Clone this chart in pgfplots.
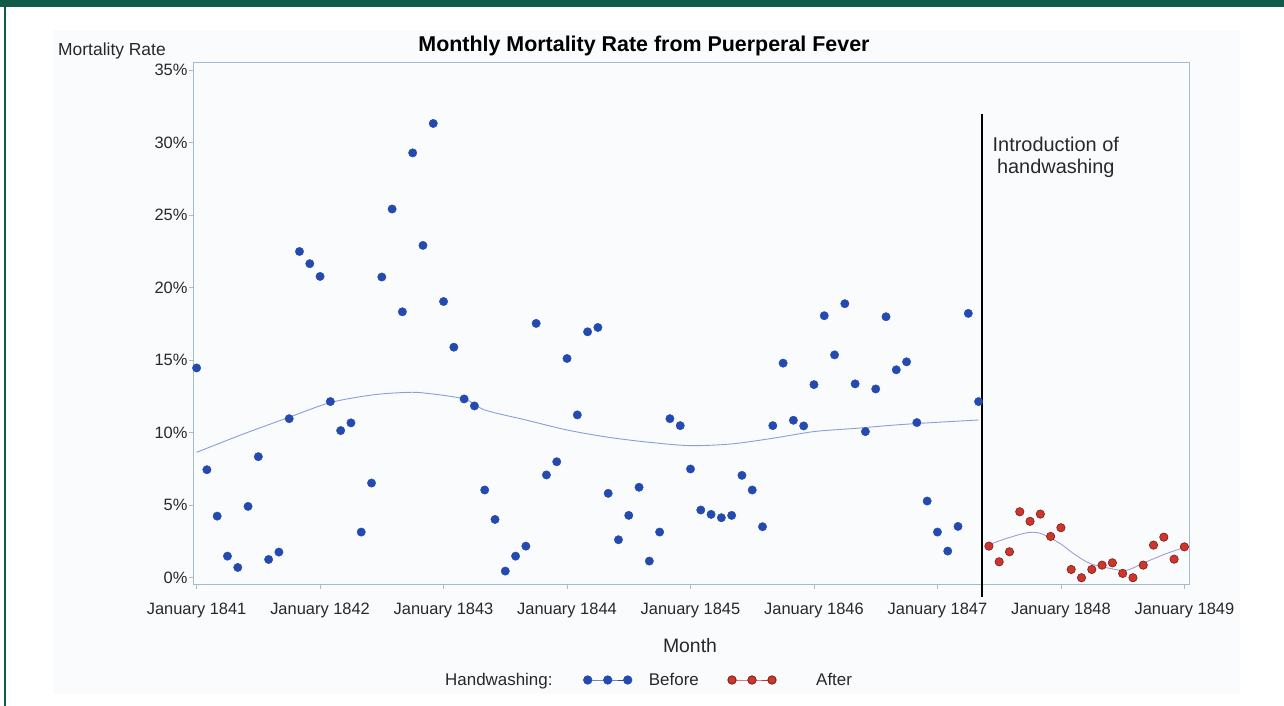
\documentclass[border=0pt]{standalone}
\usepackage{fontspec}
\setmainfont{Liberation Sans}
\usepackage{pgfplots}
\usepackage{pgfplotstable}
\pgfplotsset{compat=1.18}
\definecolor{dkgreen}{RGB}{15,90,72}
\definecolor{panel}{RGB}{250,251,253}
\definecolor{axc}{RGB}{165,188,202}
\definecolor{ptblue}{RGB}{36,74,176}
\definecolor{ptred}{RGB}{206,54,44}
\definecolor{ptredo}{RGB}{120,30,25}
\definecolor{fitblue}{RGB}{135,160,215}
\definecolor{fitred}{RGB}{165,155,210}
\definecolor{txt}{RGB}{40,40,40}

\pgfplotsset{
  blueleg/.style={legend image code/.code={\draw[ptblue, line width=0.8bp, mark=*, mark size=4.2bp, mark options={fill=ptblue}] plot coordinates {(0bp,0bp) (20bp,0bp) (40bp,0bp)};}},
  redleg/.style={legend image code/.code={\draw[ptred, line width=0.8bp, mark=*, mark size=4.2bp, mark options={fill=ptred, draw=ptredo}] plot coordinates {(0bp,0bp) (20bp,0bp) (40bp,0bp)};}},
}

\pgfplotstableread{
m v
0 14.47
1 7.45
2 4.25
3 1.49
4 0.71
5 4.92
6 8.35
7 1.26
8 1.77
9 10.97
10 22.50
11 21.66
12 20.78
13 12.15
14 10.15
15 10.68
16 3.15
17 6.53
18 20.74
19 25.43
20 18.34
21 29.30
22 22.92
23 31.33
24 19.05
25 15.90
26 12.33
27 11.85
28 6.05
29 4.02
30 0.46
31 1.49
32 2.18
33 17.54
34 7.09
35 8.00
36 15.12
37 11.23
38 16.96
39 17.26
40 5.82
41 2.62
42 4.30
43 6.24
44 1.15
45 3.15
46 10.97
47 10.49
48 7.50
49 4.67
50 4.37
51 4.14
52 4.30
53 7.06
54 6.05
55 3.52
56 10.49
57 14.80
58 10.86
59 10.47
60 13.32
61 18.07
62 15.37
63 18.90
64 13.37
65 10.08
66 13.02
67 18.00
68 14.34
69 14.89
70 10.70
71 5.29
72 3.15
73 1.84
74 3.54
75 18.23
76 12.15
}\before

\pgfplotstableread{
m v
77 2.18
78 1.10
79 1.79
80 4.55
81 3.89
82 4.39
83 2.85
84 3.45
85 0.57
86 0.00
87 0.57
88 0.87
89 1.03
90 0.30
91 0.00
92 0.87
93 2.25
94 2.80
95 1.28
96 2.13
}\after

\pgfplotstableread{
m v
0 8.65
4.5 9.90
9 11.07
13 12.08
17 12.60
20 12.77
22 12.75
26 12.33
28 11.57
32 10.88
36 10.19
40 9.69
44 9.34
48 9.11
52 9.23
56 9.62
60 10.08
64 10.30
68 10.54
72 10.72
76 10.88
}\fitbefore

\pgfplotstableread{
m v
76.9 2.25
78.7 2.71
80.7 3.10
82.0 3.06
83.9 2.37
85.2 1.68
86.8 0.99
88.8 0.64
90.4 0.52
92.3 1.10
94.3 1.68
96.2 2.13
}\fitafter

\begin{document}
\begin{tikzpicture}[x=1bp,y=1bp]
\useasboundingbox (0,0) rectangle (1284,706);
\fill[white] (0,0) rectangle (1284,706);
\fill[dkgreen] (0,699) rectangle (1284,706);
\fill[dkgreen] (4,0) rectangle (6,706);
\fill[panel] (53,12) rectangle (1240,676);
\begin{axis}[
  at={(193bp,121bp)}, anchor=south west,
  scale only axis, width=996bp, height=522bp,
  xmin=-0.35, xmax=96.45, ymin=-0.5, ymax=35.5,
  axis line style={axc, line width=1bp},
  axis background/.style={fill=panel},
  xtick={0,12,...,96},
  xticklabels={January 1841,January 1842,January 1843,January 1844,January 1845,January 1846,January 1847,January 1848,January 1849},
  ytick={0,5,...,35},
  yticklabels={0\%,5\%,10\%,15\%,20\%,25\%,30\%,35\%},
  tick align=outside, major tick length=4bp,
  tick style={axc, line width=0.8bp},
  tick pos=left,
  ticklabel style={font=\fontsize{16.5}{18}\selectfont, text=txt},
  xticklabel style={yshift=-11bp},
  yticklabel style={xshift=2bp},
  clip=false,
  legend columns=-1,
  legend style={at={(axis description cs:0.248,-0.182)}, anchor=west, draw=none, fill=none,
    font=\fontsize{17}{19}\selectfont, text=txt},
]
\addplot[fitblue, line width=0.9bp, smooth, forget plot] table[x=m,y=v]{\fitbefore};
\addplot[fitred, line width=0.9bp, smooth, forget plot] table[x=m,y=v]{\fitafter};
\addplot[only marks, mark=*, mark size=4.2bp, mark options={draw=ptblue, fill=ptblue}, forget plot] table[x=m,y=v]{\before};
\addplot[only marks, mark=*, mark size=4.2bp, mark options={draw=ptredo, fill=ptred, line width=0.6bp}, forget plot] table[x=m,y=v]{\after};
\draw[black, line width=2.5bp] (axis cs:76.35,31.95) -- (axis cs:76.35,-1.34);
\node[align=center, text=txt, font=\fontsize{20}{22.7}\selectfont] at (axis cs:83.5,29.0) {Introduction of\\handwashing};
\addlegendimage{empty legend}
\addlegendentry{Handwashing:\hspace*{29bp}}
\addlegendimage{blueleg}
\addlegendentry{\hspace*{15bp}Before\hspace*{27bp}}
\addlegendimage{redleg}
\addlegendentry{\hspace*{38bp}After}
\end{axis}
\node[font=\fontsize{21.5}{24}\selectfont\bfseries] at (644,660) {Monthly Mortality Rate from Puerperal Fever};
\node[anchor=base west, inner sep=0pt, text=txt, font=\fontsize{17.5}{19}\selectfont] at (58,650) {Mortality Rate};
\node[text=txt, font=\fontsize{19.5}{21}\selectfont] at (690,60) {Month};
\end{tikzpicture}
\end{document}
